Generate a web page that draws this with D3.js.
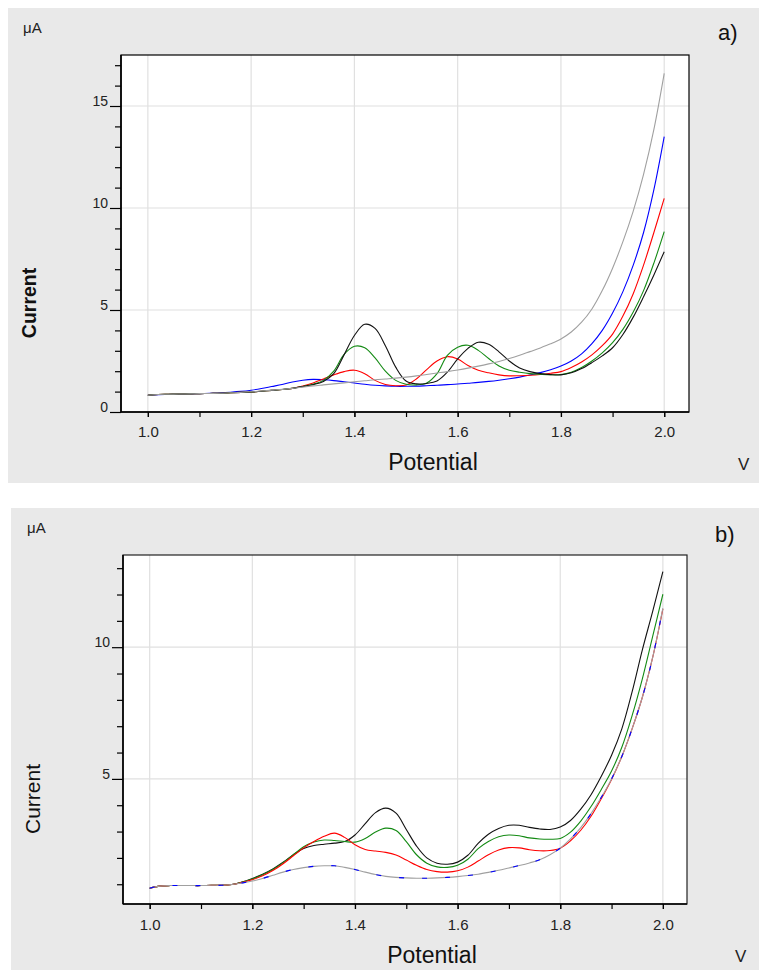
<!DOCTYPE html>
<html>
<head>
<meta charset="utf-8">
<script src="https://cdn.jsdelivr.net/npm/d3@7"></script>
<style>
  body { margin: 0; background: #ffffff; }
  svg { display: block; font-family: "Liberation Sans", Arial, sans-serif; }
</style>
</head>
<body>
<svg id="chart" width="759" height="970"></svg>
<script>
// Sampled potential (V) shared by every voltammogram
const potential = [
  1.00, 1.02, 1.04, 1.06, 1.08, 1.10, 1.12, 1.14, 1.16, 1.18,
  1.20, 1.22, 1.24, 1.26, 1.28, 1.30, 1.32, 1.34, 1.36, 1.38,
  1.40, 1.42, 1.44, 1.46, 1.48, 1.50, 1.52, 1.54, 1.56, 1.58,
  1.60, 1.62, 1.64, 1.66, 1.68, 1.70, 1.72, 1.74, 1.76, 1.78,
  1.80, 1.82, 1.84, 1.86, 1.88, 1.90, 1.92, 1.94, 1.96, 1.98,
  2.00
];

// Panel a) currents (µA)
const aGray = [
  0.82, 0.86, 0.87, 0.88, 0.89, 0.90, 0.91, 0.92, 0.94, 0.96,
  0.99, 1.03, 1.07, 1.11, 1.16, 1.22, 1.28, 1.33, 1.38, 1.43,
  1.48, 1.53, 1.58, 1.62, 1.66, 1.71, 1.77, 1.84, 1.91, 1.98,
  2.06, 2.15, 2.25, 2.36, 2.48, 2.62, 2.78, 2.96, 3.14, 3.34,
  3.58, 3.92, 4.40, 5.05, 5.95, 7.05, 8.35, 9.85, 11.65, 13.85,
  16.60
];
const aBlue = [
  0.82, 0.85, 0.86, 0.87, 0.88, 0.90, 0.92, 0.94, 0.97, 1.01,
  1.07, 1.15, 1.25, 1.35, 1.47, 1.56, 1.60, 1.58, 1.54, 1.48,
  1.42, 1.36, 1.31, 1.28, 1.26, 1.26, 1.27, 1.29, 1.31, 1.34,
  1.37, 1.41, 1.45, 1.50, 1.56, 1.63, 1.71, 1.81, 1.93, 2.07,
  2.25, 2.50, 2.85, 3.35, 4.00, 4.85, 5.90, 7.20, 8.80, 10.90,
  13.50
];
const aRed = [
  0.82, 0.86, 0.87, 0.88, 0.89, 0.90, 0.91, 0.92, 0.94, 0.96,
  0.98, 1.02, 1.06, 1.10, 1.16, 1.27, 1.42, 1.62, 1.82, 1.98,
  2.05, 1.88, 1.55, 1.35, 1.29, 1.32, 1.62, 2.08, 2.50, 2.71,
  2.60, 2.28, 2.05, 1.92, 1.82, 1.77, 1.78, 1.80, 1.84, 1.90,
  1.98, 2.18, 2.45, 2.80, 3.25, 3.82, 4.70, 5.80, 7.20, 8.80,
  10.47
];
const aGreen = [
  0.82, 0.86, 0.87, 0.88, 0.89, 0.90, 0.91, 0.92, 0.94, 0.96,
  0.98, 1.02, 1.06, 1.10, 1.16, 1.25, 1.36, 1.55, 2.00, 2.82,
  3.22, 3.15, 2.65, 2.00, 1.55, 1.36, 1.33, 1.42, 1.88, 2.78,
  3.18, 3.27, 3.02, 2.62, 2.26, 2.05, 1.95, 1.88, 1.85, 1.83,
  1.84, 1.95, 2.18, 2.50, 2.90, 3.40, 4.05, 4.90, 5.95, 7.30,
  8.84
];
const aBlack = [
  0.82, 0.86, 0.87, 0.88, 0.89, 0.90, 0.91, 0.92, 0.94, 0.96,
  0.98, 1.02, 1.06, 1.10, 1.16, 1.25, 1.34, 1.50, 1.88, 2.80,
  3.75, 4.30, 4.10, 3.25, 2.20, 1.52, 1.38, 1.40, 1.52, 1.95,
  2.60, 3.12, 3.42, 3.32, 2.95, 2.50, 2.16, 1.98, 1.88, 1.83,
  1.82, 1.92, 2.13, 2.42, 2.75, 3.15, 3.80, 4.65, 5.65, 6.72,
  7.86
];

// Panel b) currents (µA)
const bGray = [
  0.85, 0.93, 0.95, 0.95, 0.95, 0.95, 0.96, 0.96, 0.99, 1.05,
  1.12, 1.22, 1.34, 1.46, 1.56, 1.63, 1.68, 1.70, 1.70, 1.64,
  1.56, 1.46, 1.37, 1.30, 1.26, 1.24, 1.23, 1.23, 1.24, 1.26,
  1.29, 1.33, 1.38, 1.45, 1.53, 1.62, 1.71, 1.81, 1.93, 2.12,
  2.37, 2.72, 3.15, 3.68, 4.30, 5.00, 5.85, 6.90, 8.10, 9.60,
  11.48
];
const bBlue = [
  0.85, 0.93, 0.95, 0.95, 0.95, 0.95, 0.96, 0.96, 0.99, 1.05,
  1.12, 1.22, 1.34, 1.46, 1.56, 1.63, 1.68, 1.70, 1.70, 1.64,
  1.56, 1.46, 1.37, 1.30, 1.26, 1.24, 1.23, 1.23, 1.24, 1.26,
  1.29, 1.33, 1.38, 1.45, 1.53, 1.62, 1.71, 1.81, 1.93, 2.12,
  2.37, 2.72, 3.15, 3.68, 4.30, 5.00, 5.85, 6.90, 8.10, 9.60,
  11.48
];
const bRed = [
  0.85, 0.93, 0.95, 0.95, 0.95, 0.95, 0.96, 0.96, 0.99, 1.07,
  1.17, 1.32, 1.52, 1.78, 2.08, 2.38, 2.62, 2.82, 2.94, 2.78,
  2.50, 2.32, 2.26, 2.21, 2.11, 1.92, 1.72, 1.56, 1.48, 1.46,
  1.51, 1.65, 1.88, 2.12, 2.30, 2.39, 2.38, 2.31, 2.27, 2.28,
  2.37, 2.65, 3.05, 3.58, 4.25, 4.98, 5.85, 6.90, 8.10, 9.60,
  11.45
];
const bGreen = [
  0.85, 0.93, 0.95, 0.95, 0.95, 0.95, 0.96, 0.96, 0.99, 1.08,
  1.20, 1.36, 1.56, 1.82, 2.12, 2.42, 2.60, 2.68, 2.66, 2.62,
  2.60, 2.74, 2.98, 3.13, 3.04, 2.62, 2.12, 1.80, 1.66, 1.64,
  1.72, 1.95, 2.35, 2.62, 2.80, 2.87, 2.84, 2.76, 2.72, 2.71,
  2.74, 2.98, 3.40, 3.95, 4.60, 5.30, 6.20, 7.40, 8.80, 10.40,
  12.01
];
const bBlack = [
  0.85, 0.93, 0.95, 0.95, 0.95, 0.95, 0.96, 0.96, 0.99, 1.08,
  1.22, 1.38, 1.58, 1.84, 2.12, 2.36, 2.47, 2.52, 2.56, 2.62,
  2.87, 3.30, 3.72, 3.89, 3.70, 3.08, 2.45, 2.00, 1.80, 1.76,
  1.84, 2.10, 2.55, 2.90, 3.12, 3.24, 3.24, 3.16, 3.10, 3.08,
  3.17, 3.42, 3.85, 4.40, 5.10, 5.90, 6.90, 8.30, 9.90, 11.35,
  12.87
];

// Axis ticks
const xMajorTicks = [1.0, 1.2, 1.4, 1.6, 1.8, 2.0];
const xMinorTicks = [1.0, 1.1, 1.2, 1.3, 1.4, 1.5, 1.6, 1.7, 1.8, 1.9, 2.0];
const aYMajorTicks = [0, 5, 10, 15];
const aYMinorTicks = [1, 2, 3, 4, 6, 7, 8, 9, 11, 12, 13, 14, 16, 17];
const bYMajorTicks = [5, 10];
const bYMinorTicks = [1, 2, 3, 4, 6, 7, 8, 9, 11, 12, 13];

const svg = d3.select("#chart");

const panels = [
  {
    tag: "a)", bg: [8, 8, 751, 475],
    xRange: [121, 689], yRange: [412, 55],
    xDomain: [0.948, 2.048], yDomain: [0, 17.5],
    yMajor: aYMajorTicks, yMinor: aYMinorTicks, gridY: [5, 10, 15],
    frame: "#000",
    series: [
      { v: aBlue, c: "#0000ff" },
      { v: aRed, c: "#ff0000" },
      { v: aGreen, c: "#138a13" },
      { v: aBlack, c: "#111111" },
      { v: aGray, c: "#a0a0a0" }
    ],
    tagPos: [718, 40], unitPos: [23, 33],
    yTitle: { x: 36, y: 303, weight: "bold", size: 19.5 },
    xTitlePos: [433, 470], vPos: [738, 470], xLabelPad: 9
  },
  {
    tag: "b)", bg: [11, 508, 748, 462],
    xRange: [123, 687], yRange: [904, 555],
    xDomain: [0.948, 2.047], yDomain: [0.25, 13.5],
    yMajor: bYMajorTicks, yMinor: bYMinorTicks, gridY: [5, 10],
    frame: "#222",
    series: [
      { v: bBlack, c: "#111111" },
      { v: bGreen, c: "#138a13" },
      { v: bRed, c: "#ff0000" },
      { v: bGray, c: "#a0a0a0" },
      { v: bBlue, c: "#0000ff", dash: "5,18" }
    ],
    tagPos: [715, 542], unitPos: [27, 533],
    yTitle: { x: 40, y: 799, weight: "normal", size: 21 },
    xTitlePos: [432, 963], vPos: [735, 962], xLabelPad: 10
  }
];

panels.forEach((p, pi) => {
  const g = svg.append("g");

  // panel background
  g.append("rect")
    .attr("x", p.bg[0]).attr("y", p.bg[1])
    .attr("width", p.bg[2]).attr("height", p.bg[3])
    .attr("fill", "#e9e9e9");

  const x = d3.scaleLinear().domain(p.xDomain).range(p.xRange);
  const y = d3.scaleLinear().domain(p.yDomain).range(p.yRange);
  const [x0, x1] = p.xRange;
  const [yb, yt] = p.yRange;

  // plot area
  g.append("rect")
    .attr("x", x0).attr("y", yt)
    .attr("width", x1 - x0).attr("height", yb - yt)
    .attr("fill", "#ffffff");

  // grid
  g.append("g").selectAll("line").data(xMajorTicks).join("line")
    .attr("x1", d => x(d)).attr("x2", d => x(d))
    .attr("y1", yt).attr("y2", yb)
    .attr("stroke", "#e0e0e0").attr("stroke-width", 1.2);
  g.append("g").selectAll("line").data(p.gridY).join("line")
    .attr("x1", x0).attr("x2", x1)
    .attr("y1", d => y(d)).attr("y2", d => y(d))
    .attr("stroke", "#e0e0e0").attr("stroke-width", 1.2);

  // curves
  const clipId = "clip" + pi;
  g.append("clipPath").attr("id", clipId).append("rect")
    .attr("x", x0).attr("y", yt).attr("width", x1 - x0).attr("height", yb - yt);

  const line = d3.line()
    .x((d, i) => x(potential[i]))
    .y(d => y(d))
    .curve(d3.curveCatmullRom.alpha(0.5));

  g.append("g").attr("clip-path", `url(#${clipId})`)
    .selectAll("path").data(p.series).join("path")
    .attr("d", s => line(s.v))
    .attr("fill", "none")
    .attr("stroke", s => s.c)
    .attr("stroke-width", 1.1)
    .attr("stroke-dasharray", s => s.dash || null);

  // frame
  g.append("rect")
    .attr("x", x0).attr("y", yt)
    .attr("width", x1 - x0).attr("height", yb - yt)
    .attr("fill", "none").attr("stroke", p.frame).attr("stroke-width", 1.2);
  g.append("line").attr("x1", x0).attr("x2", x0).attr("y1", yt).attr("y2", yb)
    .attr("stroke", "#000").attr("stroke-width", 1.6);
  g.append("line").attr("x1", x0).attr("x2", x1).attr("y1", yb).attr("y2", yb)
    .attr("stroke", "#000").attr("stroke-width", 1.6);

  // x axis
  const xMinor = g.append("g").attr("transform", `translate(0,${yb})`)
    .call(d3.axisBottom(x).tickValues(xMinorTicks).tickSize(5).tickFormat(""));
  const xMajor = g.append("g").attr("transform", `translate(0,${yb})`)
    .call(d3.axisBottom(x).tickValues(xMajorTicks).tickSize(5)
      .tickPadding(p.xLabelPad).tickFormat(d3.format(".1f")));
  [xMinor, xMajor].forEach(a => {
    a.select(".domain").remove();
    a.selectAll("line").attr("stroke", "#000").attr("stroke-width", 1.2);
  });
  xMajor.selectAll("text")
    .attr("font-family", "'Liberation Sans', Arial, sans-serif")
    .attr("font-size", 15).attr("fill", "#222");

  // y axis
  const yMinorAxis = g.append("g").attr("transform", `translate(${x0},0)`)
    .call(d3.axisLeft(y).tickValues(p.yMinor).tickSize(6).tickFormat(""));
  const yMajorAxis = g.append("g").attr("transform", `translate(${x0},0)`)
    .call(d3.axisLeft(y).tickValues(p.yMajor).tickSize(11).tickPadding(2)
      .tickFormat(d3.format("d")));
  [yMinorAxis, yMajorAxis].forEach(a => {
    a.select(".domain").remove();
    a.selectAll("line").attr("stroke", "#000").attr("stroke-width", 1.2);
  });
  yMajorAxis.selectAll("text")
    .attr("dy", "-0.05em")
    .attr("font-family", "'Liberation Sans', Arial, sans-serif")
    .attr("font-size", 14).attr("fill", "#222");

  // titles
  g.append("text").attr("x", p.unitPos[0]).attr("y", p.unitPos[1])
    .attr("font-size", 15).attr("fill", "#222").text("μA");
  g.append("text")
    .attr("transform", `translate(${p.yTitle.x},${p.yTitle.y}) rotate(-90)`)
    .attr("text-anchor", "middle")
    .attr("font-size", p.yTitle.size).attr("font-weight", p.yTitle.weight)
    .attr("fill", "#111").text("Current");
  g.append("text").attr("x", p.xTitlePos[0]).attr("y", p.xTitlePos[1])
    .attr("text-anchor", "middle").attr("font-size", 23)
    .attr("fill", "#111").text("Potential");
  g.append("text").attr("x", p.vPos[0]).attr("y", p.vPos[1])
    .attr("font-size", 17).attr("fill", "#222").text("V");
  g.append("text").attr("x", p.tagPos[0]).attr("y", p.tagPos[1])
    .attr("font-size", 22).attr("fill", "#111").text(p.tag);
});
</script>
</body>
</html>
